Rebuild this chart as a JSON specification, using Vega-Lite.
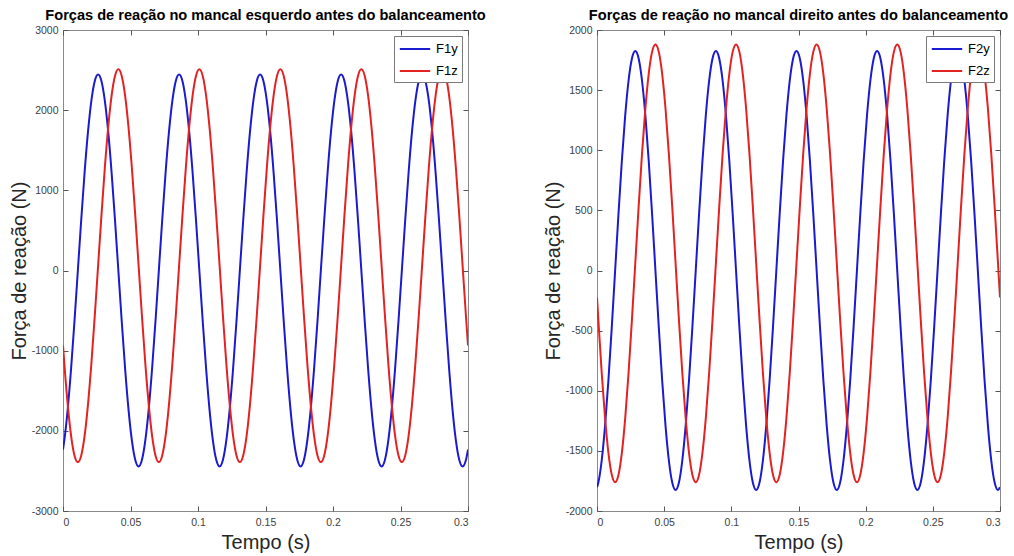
{
"$schema":"https://vega.github.io/schema/vega-lite/v6.json",
"background":"white",
"padding":{"left":8,"top":7,"right":5,"bottom":3},
"config":{"font":"Liberation Sans","view":{"stroke":"#8a8a8a","strokeWidth":1},
"axis":{"grid":false,"domain":false,"tickColor":"#555555","tickSize":-5,"labelFont":"Liberation Sans","labelFontSize":10.5,"labelColor":"#404040","titleFont":"Liberation Sans","titleFontSize":20,"titleFontWeight":"normal","titleColor":"#262626"},
"title":{"font":"Liberation Sans","fontSize":14.6,"fontWeight":"bold","color":"#000000","frame":"group","anchor":"middle","offset":2},
"legend":{"orient":"top-right","offset":6,"fillColor":"white","strokeColor":"#7a7a7a","padding":4,"title":null,"labelFontSize":13,"labelFont":"Liberation Sans","labelColor":"#000000","symbolType":"M-0.9,0H2.9","symbolSize":256,"symbolStrokeWidth":2,"labelOffset":20,"rowPadding":6}},
"datasets":{"f":[
{"t":0,"F1y":-2234,"F1z":-936,"F2y":-1803,"F2z":-225},
{"t":0.001,"F1y":-2117,"F1z":-1165,"F2y":-1763,"F2z":-411},
{"t":0.0035,"F1y":-1729,"F1z":-1672,"F2y":-1580,"F2z":-850},
{"t":0.006,"F1y":-1223,"F1z":-2062,"F2y":-1290,"F2z":-1227},
{"t":0.0085,"F1y":-633,"F1z":-2307,"F2y":-913,"F2z":-1516},
{"t":0.011,"F1y":0,"F1z":-2390,"F2y":-472,"F2z":-1698},
{"t":0.0135,"F1y":633,"F1z":-2307,"F2y":0,"F2z":-1760},
{"t":0.016,"F1y":1223,"F1z":-2062,"F2y":472,"F2z":-1698},
{"t":0.0185,"F1y":1729,"F1z":-1672,"F2y":913,"F2z":-1516},
{"t":0.021,"F1y":2117,"F1z":-1165,"F2y":1290,"F2z":-1227},
{"t":0.0235,"F1y":2362,"F1z":-574,"F2y":1580,"F2z":-850},
{"t":0.026,"F1y":2445,"F1z":60,"F2y":1763,"F2z":-411},
{"t":0.0285,"F1y":2362,"F1z":694,"F2y":1825,"F2z":60},
{"t":0.031,"F1y":2117,"F1z":1285,"F2y":1763,"F2z":531},
{"t":0.0335,"F1y":1729,"F1z":1792,"F2y":1580,"F2z":970},
{"t":0.036,"F1y":1223,"F1z":2182,"F2y":1290,"F2z":1347},
{"t":0.0385,"F1y":633,"F1z":2427,"F2y":913,"F2z":1636},
{"t":0.041,"F1y":0,"F1z":2510,"F2y":472,"F2z":1818},
{"t":0.0435,"F1y":-633,"F1z":2427,"F2y":0,"F2z":1880},
{"t":0.046,"F1y":-1223,"F1z":2182,"F2y":-472,"F2z":1818},
{"t":0.0485,"F1y":-1729,"F1z":1792,"F2y":-913,"F2z":1636},
{"t":0.051,"F1y":-2117,"F1z":1285,"F2y":-1290,"F2z":1347},
{"t":0.0535,"F1y":-2362,"F1z":694,"F2y":-1580,"F2z":970},
{"t":0.056,"F1y":-2445,"F1z":60,"F2y":-1763,"F2z":531},
{"t":0.0585,"F1y":-2362,"F1z":-574,"F2y":-1825,"F2z":60},
{"t":0.061,"F1y":-2117,"F1z":-1165,"F2y":-1763,"F2z":-411},
{"t":0.0635,"F1y":-1729,"F1z":-1672,"F2y":-1580,"F2z":-850},
{"t":0.066,"F1y":-1223,"F1z":-2062,"F2y":-1290,"F2z":-1227},
{"t":0.0685,"F1y":-633,"F1z":-2307,"F2y":-913,"F2z":-1516},
{"t":0.071,"F1y":0,"F1z":-2390,"F2y":-472,"F2z":-1698},
{"t":0.0735,"F1y":633,"F1z":-2307,"F2y":0,"F2z":-1760},
{"t":0.076,"F1y":1223,"F1z":-2062,"F2y":472,"F2z":-1698},
{"t":0.0785,"F1y":1729,"F1z":-1672,"F2y":913,"F2z":-1516},
{"t":0.081,"F1y":2117,"F1z":-1165,"F2y":1290,"F2z":-1227},
{"t":0.0835,"F1y":2362,"F1z":-574,"F2y":1580,"F2z":-850},
{"t":0.086,"F1y":2445,"F1z":60,"F2y":1763,"F2z":-411},
{"t":0.0885,"F1y":2362,"F1z":694,"F2y":1825,"F2z":60},
{"t":0.091,"F1y":2117,"F1z":1285,"F2y":1763,"F2z":531},
{"t":0.0935,"F1y":1729,"F1z":1792,"F2y":1580,"F2z":970},
{"t":0.096,"F1y":1223,"F1z":2182,"F2y":1290,"F2z":1347},
{"t":0.0985,"F1y":633,"F1z":2427,"F2y":913,"F2z":1636},
{"t":0.101,"F1y":0,"F1z":2510,"F2y":472,"F2z":1818},
{"t":0.1035,"F1y":-633,"F1z":2427,"F2y":0,"F2z":1880},
{"t":0.106,"F1y":-1223,"F1z":2182,"F2y":-472,"F2z":1818},
{"t":0.1085,"F1y":-1729,"F1z":1792,"F2y":-913,"F2z":1636},
{"t":0.111,"F1y":-2117,"F1z":1285,"F2y":-1290,"F2z":1347},
{"t":0.1135,"F1y":-2362,"F1z":694,"F2y":-1580,"F2z":970},
{"t":0.116,"F1y":-2445,"F1z":60,"F2y":-1763,"F2z":531},
{"t":0.1185,"F1y":-2362,"F1z":-574,"F2y":-1825,"F2z":60},
{"t":0.121,"F1y":-2117,"F1z":-1165,"F2y":-1763,"F2z":-411},
{"t":0.1235,"F1y":-1729,"F1z":-1672,"F2y":-1580,"F2z":-850},
{"t":0.126,"F1y":-1223,"F1z":-2062,"F2y":-1290,"F2z":-1227},
{"t":0.1285,"F1y":-633,"F1z":-2307,"F2y":-913,"F2z":-1516},
{"t":0.131,"F1y":0,"F1z":-2390,"F2y":-472,"F2z":-1698},
{"t":0.1335,"F1y":633,"F1z":-2307,"F2y":0,"F2z":-1760},
{"t":0.136,"F1y":1223,"F1z":-2062,"F2y":472,"F2z":-1698},
{"t":0.1385,"F1y":1729,"F1z":-1672,"F2y":913,"F2z":-1516},
{"t":0.141,"F1y":2117,"F1z":-1165,"F2y":1290,"F2z":-1227},
{"t":0.1435,"F1y":2362,"F1z":-574,"F2y":1580,"F2z":-850},
{"t":0.146,"F1y":2445,"F1z":60,"F2y":1763,"F2z":-411},
{"t":0.1485,"F1y":2362,"F1z":694,"F2y":1825,"F2z":60},
{"t":0.151,"F1y":2117,"F1z":1285,"F2y":1763,"F2z":531},
{"t":0.1535,"F1y":1729,"F1z":1792,"F2y":1580,"F2z":970},
{"t":0.156,"F1y":1223,"F1z":2182,"F2y":1290,"F2z":1347},
{"t":0.1585,"F1y":633,"F1z":2427,"F2y":913,"F2z":1636},
{"t":0.161,"F1y":0,"F1z":2510,"F2y":472,"F2z":1818},
{"t":0.1635,"F1y":-633,"F1z":2427,"F2y":0,"F2z":1880},
{"t":0.166,"F1y":-1223,"F1z":2182,"F2y":-472,"F2z":1818},
{"t":0.1685,"F1y":-1729,"F1z":1792,"F2y":-913,"F2z":1636},
{"t":0.171,"F1y":-2117,"F1z":1285,"F2y":-1290,"F2z":1347},
{"t":0.1735,"F1y":-2362,"F1z":694,"F2y":-1580,"F2z":970},
{"t":0.176,"F1y":-2445,"F1z":60,"F2y":-1763,"F2z":531},
{"t":0.1785,"F1y":-2362,"F1z":-574,"F2y":-1825,"F2z":60},
{"t":0.181,"F1y":-2117,"F1z":-1165,"F2y":-1763,"F2z":-411},
{"t":0.1835,"F1y":-1729,"F1z":-1672,"F2y":-1580,"F2z":-850},
{"t":0.186,"F1y":-1223,"F1z":-2062,"F2y":-1290,"F2z":-1227},
{"t":0.1885,"F1y":-633,"F1z":-2307,"F2y":-913,"F2z":-1516},
{"t":0.191,"F1y":0,"F1z":-2390,"F2y":-472,"F2z":-1698},
{"t":0.1935,"F1y":633,"F1z":-2307,"F2y":0,"F2z":-1760},
{"t":0.196,"F1y":1223,"F1z":-2062,"F2y":472,"F2z":-1698},
{"t":0.1985,"F1y":1729,"F1z":-1672,"F2y":913,"F2z":-1516},
{"t":0.201,"F1y":2117,"F1z":-1165,"F2y":1290,"F2z":-1227},
{"t":0.2035,"F1y":2362,"F1z":-574,"F2y":1580,"F2z":-850},
{"t":0.206,"F1y":2445,"F1z":60,"F2y":1763,"F2z":-411},
{"t":0.2085,"F1y":2362,"F1z":694,"F2y":1825,"F2z":60},
{"t":0.211,"F1y":2117,"F1z":1285,"F2y":1763,"F2z":531},
{"t":0.2135,"F1y":1729,"F1z":1792,"F2y":1580,"F2z":970},
{"t":0.216,"F1y":1223,"F1z":2182,"F2y":1290,"F2z":1347},
{"t":0.2185,"F1y":633,"F1z":2427,"F2y":913,"F2z":1636},
{"t":0.221,"F1y":0,"F1z":2510,"F2y":472,"F2z":1818},
{"t":0.2235,"F1y":-633,"F1z":2427,"F2y":0,"F2z":1880},
{"t":0.226,"F1y":-1223,"F1z":2182,"F2y":-472,"F2z":1818},
{"t":0.2285,"F1y":-1729,"F1z":1792,"F2y":-913,"F2z":1636},
{"t":0.231,"F1y":-2117,"F1z":1285,"F2y":-1290,"F2z":1347},
{"t":0.2335,"F1y":-2362,"F1z":694,"F2y":-1580,"F2z":970},
{"t":0.236,"F1y":-2445,"F1z":60,"F2y":-1763,"F2z":531},
{"t":0.2385,"F1y":-2362,"F1z":-574,"F2y":-1825,"F2z":60},
{"t":0.241,"F1y":-2117,"F1z":-1165,"F2y":-1763,"F2z":-411},
{"t":0.2435,"F1y":-1729,"F1z":-1672,"F2y":-1580,"F2z":-850},
{"t":0.246,"F1y":-1223,"F1z":-2062,"F2y":-1290,"F2z":-1227},
{"t":0.2485,"F1y":-633,"F1z":-2307,"F2y":-913,"F2z":-1516},
{"t":0.251,"F1y":0,"F1z":-2390,"F2y":-472,"F2z":-1698},
{"t":0.2535,"F1y":633,"F1z":-2307,"F2y":0,"F2z":-1760},
{"t":0.256,"F1y":1223,"F1z":-2062,"F2y":472,"F2z":-1698},
{"t":0.2585,"F1y":1729,"F1z":-1672,"F2y":913,"F2z":-1516},
{"t":0.261,"F1y":2117,"F1z":-1165,"F2y":1290,"F2z":-1227},
{"t":0.2635,"F1y":2362,"F1z":-574,"F2y":1580,"F2z":-850},
{"t":0.266,"F1y":2445,"F1z":60,"F2y":1763,"F2z":-411},
{"t":0.2685,"F1y":2362,"F1z":694,"F2y":1825,"F2z":60},
{"t":0.271,"F1y":2117,"F1z":1285,"F2y":1763,"F2z":531},
{"t":0.2735,"F1y":1729,"F1z":1792,"F2y":1580,"F2z":970},
{"t":0.276,"F1y":1223,"F1z":2182,"F2y":1290,"F2z":1347},
{"t":0.2785,"F1y":633,"F1z":2427,"F2y":913,"F2z":1636},
{"t":0.281,"F1y":0,"F1z":2510,"F2y":472,"F2z":1818},
{"t":0.2835,"F1y":-633,"F1z":2427,"F2y":0,"F2z":1880},
{"t":0.286,"F1y":-1223,"F1z":2182,"F2y":-472,"F2z":1818},
{"t":0.2885,"F1y":-1729,"F1z":1792,"F2y":-913,"F2z":1636},
{"t":0.291,"F1y":-2117,"F1z":1285,"F2y":-1290,"F2z":1347},
{"t":0.2935,"F1y":-2362,"F1z":694,"F2y":-1580,"F2z":970},
{"t":0.296,"F1y":-2445,"F1z":60,"F2y":-1763,"F2z":531},
{"t":0.2985,"F1y":-2362,"F1z":-574,"F2y":-1825,"F2z":60},
{"t":0.3,"F1y":-2234,"F1z":-936,"F2y":-1803,"F2z":-225}
]},
"hconcat":[
{"width":405,"height":481,
"title":{"text":"Forças de reação no mancal esquerdo antes do balanceamento"},
"data":{"name":"f"},
"transform":[{"fold":["F1y","F1z"],"as":["s","v"]}],
"layer":[
{"mark":{"type":"line","strokeWidth":2,"clip":true,"interpolate":"monotone"},
"encoding":{
"x":{"field":"t","type":"quantitative","scale":{"domain":[0,0.3],"nice":false},"axis":{"orient":"bottom","values":[0,0.05,0.1,0.15,0.2,0.25,0.3],"format":"~g","title":"Tempo (s)","labelPadding":11,"titlePadding":5}},
"y":{"field":"v","type":"quantitative","scale":{"domain":[-3000,3000],"nice":false},"axis":{"orient":"left","values":[-3000,-2000,-1000,0,1000,2000,3000],"labelExpr":"'' + datum.value","title":"Força de reação (N)","labelPadding":10,"titlePadding":2}},
"color":{"field":"s","type":"nominal","scale":{"domain":["F1y","F1z"],"range":["#1a1acf","#e32222"]},"legend":{}}
}},
{"mark":{"type":"line","opacity":0},
"encoding":{
"x":{"field":"t","type":"quantitative","axis":{"orient":"top","values":[0,0.05,0.1,0.15,0.2,0.25,0.3],"labels":false,"title":null}},
"y":{"field":"v","type":"quantitative","axis":{"orient":"right","values":[-3000,-2000,-1000,0,1000,2000,3000],"labels":false,"title":null}}
}}
]},
{"width":403,"height":481,
"title":{"text":"Forças de reação no mancal direito antes do balanceamento"},
"data":{"name":"f"},
"transform":[{"fold":["F2y","F2z"],"as":["s","v"]}],
"layer":[
{"mark":{"type":"line","strokeWidth":2,"clip":true,"interpolate":"monotone"},
"encoding":{
"x":{"field":"t","type":"quantitative","scale":{"domain":[0,0.3],"nice":false},"axis":{"orient":"bottom","values":[0,0.05,0.1,0.15,0.2,0.25,0.3],"format":"~g","title":"Tempo (s)","labelPadding":11,"titlePadding":5}},
"y":{"field":"v","type":"quantitative","scale":{"domain":[-2000,2000],"nice":false},"axis":{"orient":"left","values":[-2000,-1500,-1000,-500,0,500,1000,1500,2000],"labelExpr":"'' + datum.value","title":"Força de reação (N)","labelPadding":10,"titlePadding":2}},
"color":{"field":"s","type":"nominal","scale":{"domain":["F2y","F2z"],"range":["#1a1acf","#e32222"]},"legend":{}}
}},
{"mark":{"type":"line","opacity":0},
"encoding":{
"x":{"field":"t","type":"quantitative","axis":{"orient":"top","values":[0,0.05,0.1,0.15,0.2,0.25,0.3],"labels":false,"title":null}},
"y":{"field":"v","type":"quantitative","axis":{"orient":"right","values":[-2000,-1500,-1000,-500,0,500,1000,1500,2000],"labels":false,"title":null}}
}}
]}
],
"resolve":{"scale":{"color":"independent"}},
"spacing":129,
"bounds":"flush"
}
